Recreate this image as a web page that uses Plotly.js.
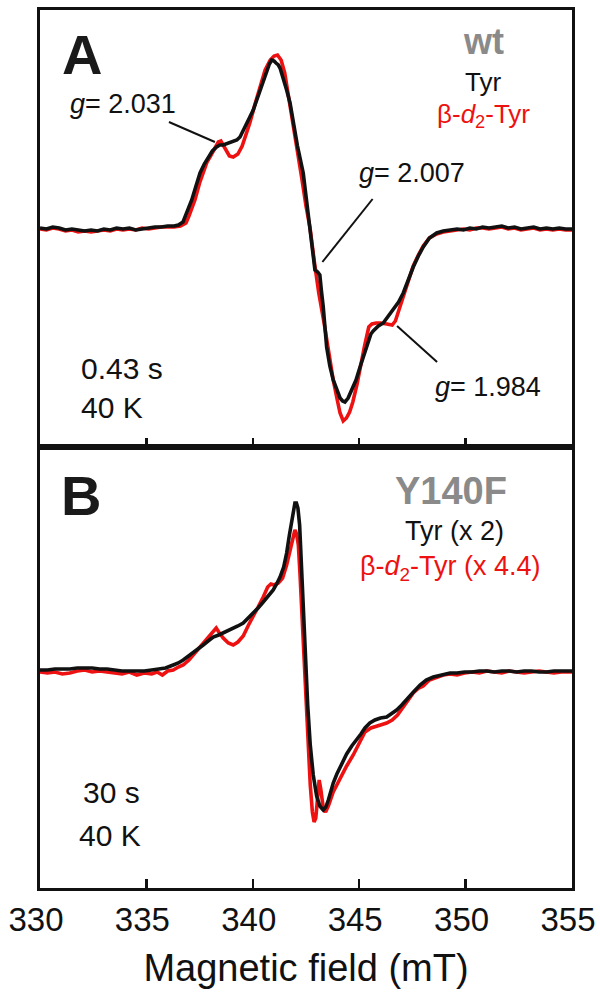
<!DOCTYPE html>
<html>
<head>
<meta charset="utf-8">
<script src="https://cdn.plot.ly/plotly-3.0.1.min.js"></script>
<style>html,body{margin:0;padding:0;background:#fff;}#chart{width:600px;height:1003px;}</style>
</head>
<body>
<div id="chart"></div>
<script>
// Panel A (wt) — black: Tyr, red: beta-d2-Tyr  (field in mT, signal in a.u.)
const fieldA_tyr = [330.00,330.30,330.60,330.90,331.20,331.50,331.80,332.10,332.40,332.70,333.00,333.30,333.60,333.90,334.20,334.50,334.80,335.10,335.40,335.70,336.00,336.30,336.50,336.72,336.92,337.13,337.33,337.52,337.72,337.91,338.10,338.30,338.45,338.61,338.85,339.08,339.25,339.40,339.55,339.71,339.86,340.02,340.18,340.34,340.50,340.65,340.78,340.89,341.00,341.09,341.20,341.28,341.40,341.59,341.75,341.90,342.10,342.37,342.55,342.69,342.83,342.92,343.05,343.15,343.22,343.31,343.47,343.62,343.78,343.95,344.10,344.22,344.33,344.48,344.65,344.85,345.04,345.25,345.43,345.55,345.66,345.90,346.13,346.35,346.60,346.85,347.07,347.30,347.54,347.78,348.01,348.30,348.64,348.95,349.27,349.60,349.90,350.20,350.50,350.80,351.10,351.40,351.70,352.00,352.30,352.60,352.90,353.20,353.50,353.80,354.10,354.40,354.70,355.00];
const signalA_tyr = [0.00,-0.01,0.01,0.00,-0.02,-0.01,-0.02,-0.03,-0.02,-0.03,-0.01,-0.02,0.00,-0.01,0.00,-0.02,-0.01,0.00,0.01,0.01,0.02,0.02,0.03,0.06,0.16,0.28,0.42,0.55,0.64,0.71,0.77,0.81,0.83,0.83,0.85,0.86,0.88,0.91,0.97,1.05,1.11,1.18,1.28,1.38,1.48,1.58,1.64,1.68,1.67,1.65,1.63,1.60,1.52,1.38,1.25,1.05,0.82,0.55,0.25,0.00,-0.22,-0.42,-0.44,-0.47,-0.62,-0.79,-1.19,-1.38,-1.52,-1.63,-1.70,-1.73,-1.74,-1.70,-1.62,-1.52,-1.39,-1.25,-1.12,-1.06,-1.03,-0.98,-0.95,-0.89,-0.82,-0.74,-0.65,-0.52,-0.39,-0.28,-0.19,-0.10,-0.05,-0.03,-0.02,-0.01,-0.02,0.00,-0.01,0.01,0.00,0.01,0.02,0.00,0.01,-0.01,0.00,0.01,-0.01,0.00,-0.01,0.00,-0.01,-0.01];
const fieldA_d2 = [330.00,330.30,330.60,330.90,331.20,331.50,331.80,332.10,332.40,332.70,333.00,333.30,333.60,333.90,334.20,334.50,334.80,335.10,335.40,335.70,336.00,336.30,336.60,336.86,337.00,337.28,337.50,337.66,337.85,338.04,338.20,338.38,338.50,338.64,338.78,338.90,339.08,339.30,339.50,339.70,339.86,340.12,340.34,340.58,340.82,341.00,341.16,341.33,341.50,341.70,341.90,342.10,342.30,342.50,342.69,342.90,343.10,343.35,343.60,343.78,343.95,344.10,344.25,344.40,344.55,344.70,344.90,345.04,345.25,345.45,345.60,345.80,346.00,346.30,346.55,346.70,346.85,347.00,347.15,347.30,347.54,347.78,348.01,348.30,348.64,348.95,349.27,349.60,349.90,350.20,350.50,350.80,351.10,351.40,351.70,352.00,352.30,352.60,352.90,353.20,353.50,353.80,354.10,354.40,354.70,355.00];
const signalA_d2 = [-0.01,-0.02,0.00,-0.01,-0.03,-0.02,-0.04,-0.03,-0.04,-0.03,-0.02,-0.03,-0.01,-0.02,-0.01,-0.02,0.00,-0.01,0.00,0.01,0.01,0.01,0.02,0.05,0.12,0.28,0.45,0.55,0.66,0.73,0.80,0.86,0.87,0.82,0.76,0.72,0.71,0.74,0.82,0.95,1.05,1.25,1.40,1.58,1.68,1.72,1.73,1.68,1.55,1.30,1.05,0.80,0.50,0.22,0.00,-0.35,-0.65,-0.95,-1.30,-1.52,-1.70,-1.85,-1.93,-1.90,-1.84,-1.74,-1.56,-1.39,-1.18,-0.99,-0.96,-0.95,-0.95,-0.96,-0.97,-0.93,-0.83,-0.74,-0.62,-0.52,-0.38,-0.27,-0.18,-0.10,-0.06,-0.04,-0.03,-0.02,-0.01,-0.02,0.00,0.00,-0.01,0.00,0.01,-0.01,0.00,-0.02,-0.01,0.00,-0.02,-0.01,-0.02,-0.01,-0.02,-0.02];

// Panel B (Y140F) — black: Tyr (x 2), red: beta-d2-Tyr (x 4.4)
const fieldB_tyr = [330.00,330.35,330.70,331.05,331.40,331.75,332.10,332.45,332.80,333.15,333.50,333.85,334.20,334.55,334.90,335.25,335.60,335.90,336.26,336.50,336.73,337.00,337.20,337.45,337.67,337.90,338.14,338.40,338.61,338.85,339.08,339.30,339.55,339.80,340.02,340.25,340.49,340.72,340.96,341.12,341.28,341.45,341.59,341.72,341.83,341.93,341.98,342.05,342.12,342.20,342.28,342.38,342.48,342.58,342.70,342.84,343.00,343.15,343.31,343.43,343.55,343.66,343.78,343.95,344.10,344.41,344.65,344.88,345.08,345.27,345.50,345.74,346.00,346.29,346.50,346.76,347.00,347.23,347.55,347.86,348.15,348.48,348.85,349.27,349.60,349.95,350.30,350.65,351.00,351.35,351.70,352.05,352.40,352.75,353.10,353.45,353.80,354.15,354.50,355.00];
const signalB_tyr = [0.00,0.00,0.01,0.01,0.01,0.02,0.02,0.02,0.01,0.01,0.00,-0.01,-0.01,-0.01,-0.01,0.00,0.01,0.02,0.05,0.07,0.10,0.14,0.17,0.21,0.25,0.29,0.33,0.35,0.37,0.39,0.42,0.44,0.47,0.52,0.57,0.62,0.68,0.74,0.80,0.86,0.93,1.03,1.17,1.35,1.50,1.63,1.67,1.67,1.62,1.45,1.05,0.65,0.15,-0.35,-0.75,-1.05,-1.26,-1.36,-1.40,-1.37,-1.30,-1.22,-1.13,-1.04,-0.97,-0.84,-0.76,-0.70,-0.64,-0.58,-0.53,-0.50,-0.48,-0.47,-0.44,-0.40,-0.35,-0.30,-0.22,-0.15,-0.10,-0.07,-0.05,-0.03,-0.03,-0.02,-0.02,-0.01,-0.01,-0.02,-0.01,-0.01,-0.02,-0.01,-0.01,-0.02,-0.02,-0.01,-0.01,-0.01];
const fieldB_d2 = [330.00,330.35,330.70,331.05,331.40,331.75,332.10,332.45,332.80,333.15,333.50,333.85,334.20,334.55,334.90,335.25,335.50,335.75,336.00,336.26,336.50,336.73,337.00,337.20,337.45,337.67,337.90,338.14,338.28,338.40,338.61,338.85,339.08,339.30,339.55,339.80,340.02,340.25,340.49,340.70,340.85,341.00,341.20,341.40,341.59,341.75,341.88,341.98,342.06,342.14,342.22,342.30,342.40,342.50,342.60,342.70,342.80,342.88,342.96,343.04,343.12,343.20,343.31,343.42,343.55,343.78,344.10,344.41,344.72,345.00,345.27,345.55,345.74,346.00,346.29,346.55,346.80,347.07,347.30,347.54,347.80,348.01,348.30,348.64,348.95,349.27,349.60,349.95,350.30,350.65,351.00,351.35,351.70,352.05,352.40,352.75,353.10,353.45,353.80,354.15,354.50,355.00];
const signalB_d2 = [-0.02,-0.03,-0.02,-0.04,-0.03,-0.01,0.00,-0.02,-0.01,-0.02,-0.03,-0.04,-0.02,-0.05,-0.03,-0.04,-0.02,-0.05,-0.01,0.00,0.03,0.05,0.10,0.15,0.21,0.27,0.32,0.38,0.42,0.38,0.32,0.27,0.25,0.28,0.34,0.45,0.53,0.63,0.73,0.83,0.86,0.85,0.87,0.92,1.05,1.18,1.30,1.40,1.36,1.25,0.95,0.58,0.05,-0.40,-0.80,-1.15,-1.42,-1.52,-1.48,-1.25,-1.10,-1.20,-1.38,-1.42,-1.36,-1.22,-1.08,-0.96,-0.85,-0.73,-0.62,-0.58,-0.57,-0.55,-0.53,-0.50,-0.45,-0.37,-0.30,-0.23,-0.18,-0.16,-0.10,-0.07,-0.05,-0.04,-0.05,-0.03,-0.02,-0.03,-0.01,-0.02,-0.03,-0.01,-0.02,-0.03,-0.02,-0.01,-0.02,-0.03,-0.02,-0.02];

const fieldTicks = [330, 335, 340, 345, 350, 355];

const FONT = 'Liberation Sans, Arial, Helvetica, sans-serif';
const RED = '#ee1111';
const BLACK = '#111111';
const GREY = '#8a8a8a';

const traces = [
  {x: fieldA_d2, y: signalA_d2, xaxis: 'x2', yaxis: 'y', mode: 'lines', line: {color: RED, width: 3.6}, hoverinfo: 'skip'},
  {x: fieldA_tyr, y: signalA_tyr, xaxis: 'x2', yaxis: 'y', mode: 'lines', line: {color: BLACK, width: 3.6}, hoverinfo: 'skip'},
  {x: fieldB_d2, y: signalB_d2, xaxis: 'x', yaxis: 'y2', mode: 'lines', line: {color: RED, width: 3.6}, hoverinfo: 'skip'},
  {x: fieldB_tyr, y: signalB_tyr, xaxis: 'x', yaxis: 'y2', mode: 'lines', line: {color: BLACK, width: 3.6}, hoverinfo: 'skip'}
];

function ann(text, x, y, xref, yref, size, color, opts) {
  return Object.assign({text: text, x: x, y: y, xref: xref, yref: yref, showarrow: false,
    xanchor: 'center', yanchor: 'middle', font: {family: FONT, size: size, color: color}}, opts || {});
}

const annotations = [
  ann('<b>A</b>', 331.96, 1.74, 'x2', 'y', 56, '#1a1a1a'),
  ann('<b>wt</b>', 350.82, 1.865, 'x2', 'y', 36, GREY),
  ann('Tyr', 350.84, 1.46, 'x2', 'y', 26, BLACK),
  ann('β-<i>d</i><sub>2</sub>-Tyr', 350.84, 1.13, 'x2', 'y', 26, RED),
  ann('<i>g</i>= 2.031', 333.90, 1.24, 'x2', 'y', 27, BLACK),
  ann('<i>g</i>= 2.007', 347.46, 0.55, 'x2', 'y', 27, BLACK),
  ann('<i>g</i>= 1.984', 351.03, -1.59, 'x2', 'y', 27, BLACK),
  ann('0.43 s', 331.83, -1.40, 'x2', 'y', 30, BLACK, {xanchor: 'left'}),
  ann('40 K', 331.83, -1.795, 'x2', 'y', 30, BLACK, {xanchor: 'left'}),
  ann('<b>B</b>', 331.92, 1.75, 'x', 'y2', 56, '#1a1a1a'),
  ann('<b>Y140F</b>', 349.31, 1.795, 'x', 'y2', 38, GREY),
  ann('Tyr (x 2)', 349.50, 1.395, 'x', 'y2', 27, BLACK),
  ann('β-<i>d</i><sub>2</sub>-Tyr (x 4.4)', 349.31, 1.025, 'x', 'y2', 27, RED),
  ann('30 s', 333.34, -1.225, 'x', 'y2', 30, BLACK),
  ann('40 K', 333.29, -1.65, 'x', 'y2', 30, BLACK)
];

function seg(x0, y0, x1, y1) {
  return {type: 'line', xref: 'x2', yref: 'y', x0: x0, y0: y0, x1: x1, y1: y1, line: {color: BLACK, width: 2}};
}
const shapes = [
  seg(336.06, 1.06, 338.22, 0.86),
  seg(343.27, -0.34, 345.63, 0.29),
  seg(346.78, -0.98, 348.66, -1.34)
];

const axisCommon = {range: [330, 355], tickvals: fieldTicks, ticks: 'inside', ticklen: 9, tickwidth: 2.5,
  tickcolor: BLACK, showline: true, mirror: true, linewidth: 3, linecolor: BLACK, showgrid: false, zeroline: false};
const yCommon = {showline: true, mirror: true, linewidth: 3, linecolor: BLACK, showgrid: false, zeroline: false,
  ticks: '', showticklabels: false, fixedrange: true};

const splitFrac = (888 - 447) / 878;

const layout = {
  width: 600, height: 1003,
  margin: {l: 40, r: 28, t: 10, b: 115},
  paper_bgcolor: '#ffffff', plot_bgcolor: '#ffffff',
  showlegend: false,
  font: {family: FONT, color: BLACK},
  xaxis: Object.assign({}, axisCommon, {anchor: 'y2', domain: [0, 1],
    tickfont: {family: FONT, size: 33, color: BLACK},
    ticklabeloverflow: 'allow', ticklabelshift: -4,
    title: {text: 'Magnetic field (mT)', font: {family: FONT, size: 38, color: BLACK}, standoff: 18}}),
  xaxis2: Object.assign({}, axisCommon, {anchor: 'y', domain: [0, 1], showticklabels: false, matches: 'x'}),
  yaxis: Object.assign({}, yCommon, {domain: [splitFrac, 1], range: [-2.19, 2.18]}),
  yaxis2: Object.assign({}, yCommon, {domain: [0, splitFrac], range: [-2.18, 2.23]}),
  annotations: annotations,
  shapes: shapes
};

Plotly.newPlot('chart', traces, layout, {displayModeBar: false, staticPlot: true});
</script>
</body>
</html>
